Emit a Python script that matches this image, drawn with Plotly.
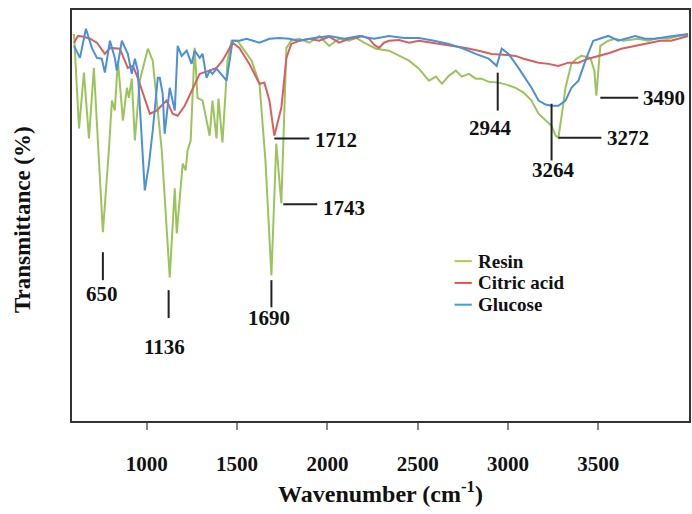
import plotly.graph_objects as go

# ---- data (wavenumber cm-1, transmittance in arbitrary %) ----
resin_wn = [597, 625, 652, 680, 707, 757, 790, 807, 823, 840, 868, 890, 901, 917, 934, 961, 1006, 1033, 1044,
            1083, 1127, 1155, 1166, 1199, 1215, 1226, 1243, 1265, 1281, 1309, 1348, 1364, 1386, 1397, 1419, 1447,
            1469, 1502, 1541, 1580, 1624, 1657, 1690, 1717, 1745, 1773, 1800, 1844, 1900, 1955, 2010, 2065, 2120,
            2159, 2203, 2269, 2341, 2396, 2452, 2507, 2562, 2601, 2634, 2672, 2711, 2744, 2783, 2821, 2854, 2893,
            2948, 2992, 3042, 3086, 3130, 3169, 3197, 3224, 3241, 3263, 3279, 3301, 3318, 3351, 3379, 3406, 3456,
            3478, 3489, 3500, 3511, 3555, 3594, 3638, 3721, 3776, 3831, 3886, 3942, 3997]
resin_t = [97.0, 73.3, 87.3, 70.8, 88.5, 47.3, 67.8, 80.3, 77.8, 90.3, 75.3, 83.5, 81.0, 85.8, 70.3, 85.3, 93.3,
           90.3, 85.3, 67.8, 36.0, 58.3, 47.0, 64.5, 62.8, 67.8, 70.3, 93.5, 81.0, 80.3, 71.5, 80.3, 70.8, 80.8,
           69.8, 90.3, 95.3, 95.3, 92.8, 90.3, 84.5, 65.3, 36.5, 69.5, 54.5, 93.5, 95.3, 95.8, 94.8, 96.5, 94.0,
           95.8, 95.3, 96.0, 94.8, 93.3, 92.8, 91.5, 90.3, 88.3, 85.3, 86.3, 84.5, 86.5, 87.8, 86.3, 87.0, 85.8,
           85.8, 85.0, 84.8, 84.3, 83.5, 82.3, 80.3, 77.0, 75.8, 74.5, 74.0, 71.5, 71.0, 77.8, 83.5, 89.5, 90.8,
           91.5, 91.0, 87.8, 81.5, 87.8, 94.0, 95.3, 95.8, 95.3, 95.8, 95.3, 96.0, 95.8, 96.5, 96.8]

citric_wn = [597, 619, 652, 685, 724, 768, 796, 851, 895, 923, 950, 989, 1017, 1055, 1083, 1110, 1143, 1171, 1210,
             1237, 1265, 1293, 1348, 1386, 1419, 1475, 1513, 1568, 1624, 1651, 1679, 1706, 1745, 1773, 1800, 1844,
             1900, 1955, 2010, 2065, 2120, 2159, 2192, 2231, 2258, 2286, 2313, 2341, 2396, 2452, 2507, 2579, 2672,
             2766, 2838, 2910, 2976, 3042, 3086, 3130, 3169, 3224, 3279, 3334, 3390, 3445, 3500, 3566, 3627, 3704,
             3776, 3842, 3903, 3953, 3997]
citric_t = [94.8, 96.5, 96.3, 95.8, 94.8, 92.0, 93.5, 93.3, 88.5, 89.0, 86.0, 81.0, 77.0, 77.8, 79.0, 80.3, 77.0,
            76.5, 79.0, 81.5, 84.0, 87.0, 87.8, 88.5, 90.3, 94.8, 93.5, 89.5, 84.5, 84.8, 80.3, 71.5, 78.5, 91.0,
            94.5, 95.3, 95.8, 95.3, 96.3, 94.8, 95.8, 96.0, 96.5, 95.8, 94.3, 93.5, 94.8, 95.3, 95.5, 94.8, 95.3,
            94.8, 94.3, 93.5, 92.8, 92.0, 91.8, 91.5, 90.8, 90.3, 89.8, 89.5, 89.0, 89.8, 89.8, 90.8, 91.5, 92.3,
            93.3, 94.0, 94.8, 95.3, 95.3, 96.0, 96.5]

glucose_wn = [597, 630, 663, 696, 724, 751, 768, 796, 823, 834, 862, 895, 917, 934, 950, 967, 989, 1011, 1033,
              1061, 1072, 1088, 1099, 1127, 1155, 1171, 1193, 1221, 1248, 1265, 1293, 1309, 1331, 1348, 1364, 1386,
              1403, 1442, 1475, 1513, 1552, 1596, 1624, 1679, 1734, 1789, 1844, 1927, 2010, 2093, 2176, 2258, 2341,
              2424, 2507, 2590, 2672, 2755, 2821, 2893, 2920, 2937, 2965, 3003, 3058, 3097, 3130, 3169, 3208, 3241,
              3279, 3318, 3351, 3390, 3417, 3434, 3472, 3517, 3555, 3610, 3666, 3704, 3759, 3814, 3886, 3997]
glucose_t = [94.0, 91.0, 98.3, 93.5, 91.0, 90.8, 87.3, 95.3, 91.0, 87.8, 95.3, 92.0, 87.0, 90.8, 87.8, 75.3, 57.8,
             64.0, 72.8, 86.0, 86.0, 82.0, 72.0, 83.5, 77.8, 94.0, 91.5, 92.8, 89.5, 92.8, 91.0, 92.0, 86.0, 87.8,
             87.0, 88.3, 87.3, 85.3, 95.3, 95.3, 95.8, 95.3, 94.8, 95.8, 96.0, 95.8, 95.3, 96.0, 96.5, 95.8, 96.5,
             95.8, 96.5, 96.0, 96.0, 95.3, 94.5, 93.3, 92.0, 90.8, 89.8, 89.0, 93.3, 92.0, 88.5, 85.8, 83.5, 80.3,
             79.3, 79.0, 79.0, 80.3, 83.5, 85.3, 89.0, 91.0, 95.3, 96.0, 96.5, 95.3, 96.0, 96.5, 95.8, 95.8, 96.3,
             97.0]

series_names = ["Resin", "Citric acid", "Glucose"]
series_colors = ["#9cc45c", "#d8605e", "#4d8fd8"]
legend_colors = ["#a8d040", "#e85050", "#3aa0e0"]

x_ticks = [1000, 1500, 2000, 2500, 3000, 3500]

# peak labels: text, label x, label y, line (x0, y0, x1, y1), text anchor
peak_text = ["650", "1136", "1690", "1743", "1712", "2944", "3264", "3272", "3490"]
peak_tx = [751, 1099, 1679, 1966, 1922, 2904, 3252, 3539, 3737]
peak_ty = [31.8, 18.5, 25.8, 53.3, 70.3, 73.5, 62.8, 71.0, 81.0]
peak_anchor = ["center", "center", "center", "left", "left", "center", "center", "left", "left"]
line_x0 = [757, 1121, 1690, 1756, 1706, 2943, 3241, 3279, 3511]
line_y0 = [42.3, 32.8, 35.3, 54.3, 70.8, 87.3, 79.5, 71.0, 81.0]
line_x1 = [757, 1121, 1690, 1944, 1900, 2943, 3241, 3517, 3721]
line_y1 = [35.3, 25.8, 28.5, 54.3, 70.8, 77.8, 65.3, 71.0, 81.0]

serif = "Liberation Serif, Times New Roman, serif"
ink = "#111111"

fig = go.Figure()
for name, xs, ys, col in zip(series_names,
                             [resin_wn, citric_wn, glucose_wn],
                             [resin_t, citric_t, glucose_t],
                             series_colors):
    fig.add_trace(go.Scatter(x=xs, y=ys, mode="lines", name=name,
                             line=dict(color=col, width=2), showlegend=False))

for i in range(len(peak_text)):
    fig.add_shape(type="line", xref="x", yref="y",
                  x0=line_x0[i], y0=line_y0[i], x1=line_x1[i], y1=line_y1[i],
                  line=dict(color="#222222", width=2))
    fig.add_annotation(x=peak_tx[i], y=peak_ty[i], xref="x", yref="y",
                       text=peak_text[i], showarrow=False,
                       xanchor=peak_anchor[i], yanchor="middle",
                       font=dict(family=serif, size=21, color=ink, weight="bold"))

# legend (drawn as key lines + labels for tight spacing)
legend_y = [0.389, 0.336, 0.283]
for name, col, ly in zip(series_names, legend_colors, legend_y):
    fig.add_shape(type="line", xref="paper", yref="paper",
                  x0=0.620, x1=0.648, y0=ly, y1=ly, line=dict(color=col, width=2))
    fig.add_annotation(xref="paper", yref="paper", x=0.655, y=ly, text=name,
                       showarrow=False, xanchor="left", yanchor="middle",
                       font=dict(family=serif, size=19, color=ink, weight="bold"))

fig.add_annotation(xref="paper", yref="paper", x=-0.081, y=0.489, text="Transmittance (%)",
                   textangle=-90, showarrow=False, xanchor="center", yanchor="middle",
                   font=dict(family=serif, size=23, color=ink, weight="bold"))

fig.update_layout(
    width=692, height=514,
    margin=dict(l=72, r=1, t=10, b=93),
    paper_bgcolor="white", plot_bgcolor="white",
    showlegend=False,
    xaxis=dict(range=[586, 4002], tickvals=x_ticks, ticks="outside", ticklen=7,
               tickcolor="#888888", tickwidth=2, ticklabelstandoff=16,
               showgrid=False, zeroline=False, showline=True, mirror=True,
               linecolor="#333333", linewidth=2, automargin=False,
               tickfont=dict(family=serif, size=21, color=ink, weight="bold"),
               title=dict(text="Wavenumber (cm<sup>-1</sup>)", standoff=10,
                          font=dict(family=serif, size=24, color=ink, weight="bold"))),
    yaxis=dict(range=[0, 103], showticklabels=False, ticks="",
               showgrid=False, zeroline=False, showline=True, mirror=True,
               linecolor="#333333", linewidth=2),
)

fig.write_html("out.html")
